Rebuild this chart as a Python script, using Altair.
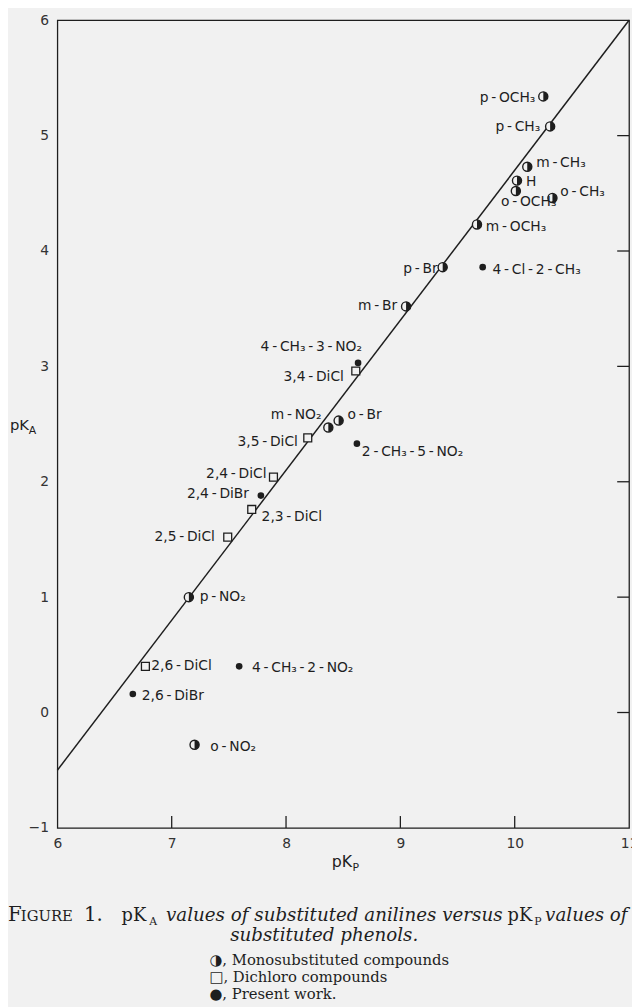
import altair as alt
import pandas as pd

# ---------------- data ----------------
names = ["p-OCH₃", "p-CH₃", "m-CH₃", "H", "o-OCH₃", "o-CH₃", "m-OCH₃", "p-Br",
         "4-Cl-2-CH₃", "m-Br", "4-CH₃-3-NO₂", "3,4-DiCl", "m-NO₂", "o-Br",
         "3,5-DiCl", "2-CH₃-5-NO₂", "2,4-DiCl", "2,4-DiBr", "2,3-DiCl",
         "2,5-DiCl", "p-NO₂", "2,6-DiCl", "4-CH₃-2-NO₂", "2,6-DiBr", "o-NO₂"]
pkp = [10.25, 10.31, 10.11, 10.02, 10.01, 10.33, 9.67, 9.37,
       9.72, 9.05, 8.63, 8.61, 8.37, 8.46,
       8.19, 8.62, 7.89, 7.78, 7.70,
       7.49, 7.15, 6.77, 7.59, 6.66, 7.20]
pka = [5.34, 5.08, 4.73, 4.61, 4.52, 4.46, 4.23, 3.86,
       3.86, 3.52, 3.03, 2.96, 2.47, 2.53,
       2.38, 2.33, 2.04, 1.88, 1.76,
       1.52, 1.00, 0.40, 0.40, 0.16, -0.28]
kind = ["mono", "mono", "mono", "mono", "mono", "mono", "mono", "mono",
        "present", "mono", "present", "dichloro", "mono", "mono",
        "dichloro", "present", "dichloro", "present", "dichloro",
        "dichloro", "mono", "dichloro", "present", "present", "mono"]

fit_x = [6.0, 11.0]
fit_y = [-0.5, 6.0]

x_ticks = [6, 7, 8, 9, 10, 11]
y_ticks = [-1, 0, 1, 2, 3, 4, 5, 6]
x_inner_ticks = [7, 8, 9, 10]
y_inner_ticks = [0, 1, 2, 3, 4, 5]

# ---------------- label placement (pixels from the point) ----------------
label_side = ["r", "r", "l", "l", "l", "l", "l", "r",
              "l", "r", "r", "r", "r", "l",
              "r", "l", "r", "r", "l",
              "r", "l", "l", "l", "l", "l"]
label_dx = [-8, -10, 9, 9, -15, 8, 9, -5,
            10, -9, 4, -12, -7, 9,
            -10, 5, -7, -12, 10,
            -13, 11, 6, 13, 9, 16]
label_dy = [2, 1, -4, 1, 11, -6, 3, 2,
            3, 0, -16, 6, -13, -6,
            4, 8, -3, -2, 8,
            0, 0, 0, 2, 2, 2]

# ---------------- styling ----------------
W, H = 579, 818
BG = "#f1f1f1"
INK = "#1e1e1e"
SANS = "DejaVu Sans"
SERIF = "DejaVu Serif"
HALF = "M0,-1A1,1,0,0,1,0,1Z"

pts = pd.DataFrame({
    "name": names, "pkp": pkp, "pka": pka, "kind": kind,
    "side": label_side, "dx": label_dx, "dy": label_dy,
})
pts["disp"] = pts["name"].str.replace("-", "\u2009-\u2009", regex=False)

xs = alt.Scale(domain=[6, 11], nice=False, zero=False)
ys = alt.Scale(domain=[-1, 6], nice=False, zero=False)
xaxis = alt.Axis(values=x_ticks, title=None, grid=False, ticks=False, domain=False,
                 labelPadding=9, labelFontSize=14, labelFont=SANS, labelColor="#333",
                 format="d", labelFlush=False, labelOverlap=False)
yaxis = alt.Axis(values=y_ticks, title=None, grid=False, ticks=False, domain=False,
                 labelPadding=9, labelFontSize=14, labelFont=SANS, labelColor="#333",
                 format="d", labelFlush=False, labelOverlap=False)


def X(f):
    return alt.X(f, scale=xs, axis=xaxis)


def Y(f):
    return alt.Y(f, scale=ys, axis=yaxis)


fit = alt.Chart(pd.DataFrame({"x": fit_x, "y": fit_y})).mark_line(
    color=INK, strokeWidth=1.5).encode(x=X("x:Q"), y=Y("y:Q"))

xt = alt.Chart(pd.DataFrame({"t": x_inner_ticks})).mark_rule(
    color=INK, strokeWidth=1.3).encode(x=X("t:Q"), y=alt.value(H - 12), y2=alt.value(H))
yt = alt.Chart(pd.DataFrame({"t": y_inner_ticks})).mark_rule(
    color=INK, strokeWidth=1.3).encode(y=Y("t:Q"), x=alt.value(W - 12), x2=alt.value(W))

base = alt.Chart(pts)
mono_ring = base.transform_filter(alt.datum.kind == "mono").mark_point(
    shape="circle", filled=False, fill=BG, stroke=INK, strokeWidth=1.4,
    size=85, opacity=1).encode(x=X("pkp:Q"), y=Y("pka:Q"))
mono_half = base.transform_filter(alt.datum.kind == "mono").mark_point(
    shape=HALF, filled=True, fill=INK, strokeWidth=0, size=85,
    opacity=1).encode(x=X("pkp:Q"), y=Y("pka:Q"))
dichloro = base.transform_filter(alt.datum.kind == "dichloro").mark_point(
    shape="square", filled=False, fill=BG, stroke=INK, strokeWidth=1.3,
    size=64, opacity=1).encode(x=X("pkp:Q"), y=Y("pka:Q"))
present = base.transform_filter(alt.datum.kind == "present").mark_point(
    shape="circle", filled=True, color=INK, size=45, opacity=1).encode(
    x=X("pkp:Q"), y=Y("pka:Q"))

lab = base.transform_calculate(
    lx=alt.datum.pkp + alt.datum.dx * 5 / W,
    ly=alt.datum.pka - alt.datum.dy * 7 / H,
)
lab_r = lab.transform_filter(alt.datum.side == "r").mark_text(
    align="right", baseline="middle", font=SANS, fontSize=14, color=INK).encode(
    x=X("lx:Q"), y=Y("ly:Q"), text="disp:N")
lab_l = lab.transform_filter(alt.datum.side == "l").mark_text(
    align="left", baseline="middle", font=SANS, fontSize=14, color=INK).encode(
    x=X("lx:Q"), y=Y("ly:Q"), text="disp:N")

# axis titles (pK with subscripts)
axis_titles = pd.DataFrame({
    "t": ["pK", "P", "pK", "A"],
    "px": [278, 299, -48, -29],
    "py": [858, 862, 415, 419],
    "fs": [16, 11, 15, 11],
})
titles = alt.Chart(axis_titles).mark_text(
    align="left", baseline="alphabetic", font=SANS, color=INK).encode(
    x=alt.X("px:Q", scale=None), y=alt.Y("py:Q", scale=None),
    size=alt.Size("fs:Q", scale=None, legend=None), text="t:N")

# caption
cap_roman = pd.DataFrame({
    "t": ["F", "IGURE", "1.", "pK", "A", "pK", "P",
          "◑, Monosubstituted compounds", "□, Dichloro compounds", "●, Present work."],
    "px": [-50, -37, 27, 65, 93, 456, 483, 154, 154, 154],
    "py": [912, 912, 912, 912, 916, 912, 916, 957, 974, 991],
    "fs": [20, 15, 20, 18, 11, 18, 11, 15, 15, 15],
})
cap_italic = pd.DataFrame({
    "t": ["values of substituted anilines versus", "values of", "substituted phenols."],
    "px": [110, 494, 175],
    "py": [912, 912, 933],
    "fs": [18.5, 18.5, 18.5],
})
cap1 = alt.Chart(cap_roman).mark_text(
    align="left", baseline="alphabetic", font=SERIF, color=INK).encode(
    x=alt.X("px:Q", scale=None), y=alt.Y("py:Q", scale=None),
    size=alt.Size("fs:Q", scale=None, legend=None), text="t:N")
cap2 = alt.Chart(cap_italic).mark_text(
    align="left", baseline="alphabetic", font=SERIF, fontStyle="italic", color=INK).encode(
    x=alt.X("px:Q", scale=None), y=alt.Y("py:Q", scale=None),
    size=alt.Size("fs:Q", scale=None, legend=None), text="t:N")

chart = alt.layer(
    fit, xt, yt, mono_ring, mono_half, dichloro, present, lab_r, lab_l,
    titles, cap1, cap2,
).properties(
    width=W, height=H,
    autosize=alt.AutoSizeParams(type="none"),
    padding={"left": 50, "top": 6, "right": 3, "bottom": 175},
    background=BG,
).configure_view(stroke=INK, strokeWidth=1.3)

chart.save("out.html", embed_options={"renderer": "svg", "actions": False})
